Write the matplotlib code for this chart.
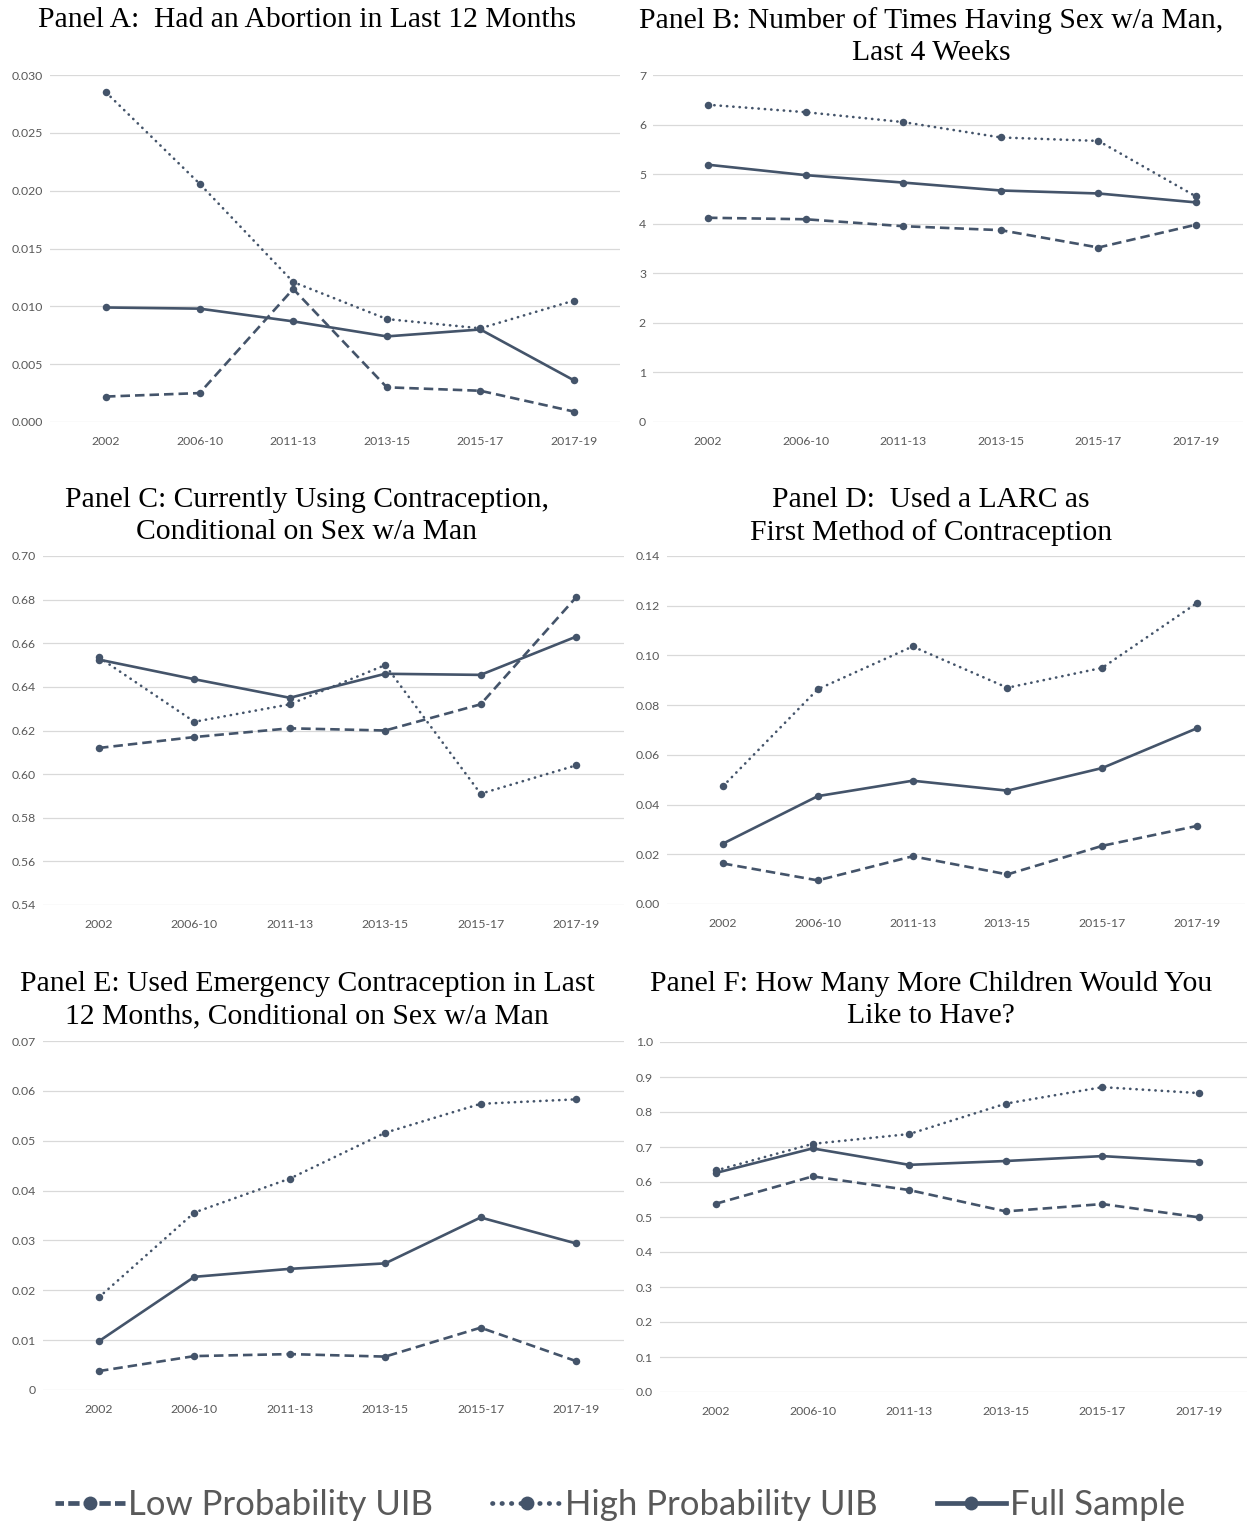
import matplotlib
matplotlib.use("Agg")
import matplotlib.pyplot as plt
from matplotlib.lines import Line2D
import numpy as np

W, H = 1249, 1524
categories = ["2002", "2006-10", "2011-13", "2013-15", "2015-17", "2017-19"]

# Panel A: Had an abortion in last 12 months
a_low = [0.0022, 0.0025, 0.0115, 0.0030, 0.0027, 0.0009]
a_high = [0.0285, 0.0206, 0.0121, 0.0089, 0.0081, 0.0105]
a_full = [0.0099, 0.0098, 0.0087, 0.0074, 0.0080, 0.0036]

# Panel B: Number of times having sex
b_low = [4.12, 4.09, 3.95, 3.87, 3.52, 3.98]
b_high = [6.40, 6.25, 6.05, 5.74, 5.67, 4.55]
b_full = [5.19, 4.98, 4.83, 4.67, 4.61, 4.43]

# Panel C: Currently using contraception
c_low = [0.612, 0.617, 0.621, 0.620, 0.632, 0.681]
c_high = [0.6535, 0.624, 0.632, 0.650, 0.591, 0.604]
c_full = [0.6525, 0.6435, 0.635, 0.646, 0.6455, 0.663]

# Panel D: LARC as first method
d_low = [0.0163, 0.0095, 0.0192, 0.0119, 0.0234, 0.0314]
d_high = [0.0474, 0.0864, 0.1036, 0.0870, 0.0950, 0.1211]
d_full = [0.0243, 0.0434, 0.0496, 0.0456, 0.0547, 0.0707]

# Panel E: Emergency contraception
e_low = [0.0038, 0.0068, 0.0072, 0.0067, 0.0125, 0.0058]
e_high = [0.0186, 0.0356, 0.0424, 0.0516, 0.0574, 0.0583]
e_full = [0.0098, 0.0227, 0.0243, 0.0254, 0.0346, 0.0294]

# Panel F: More children
f_low = [0.538, 0.616, 0.577, 0.516, 0.537, 0.499]
f_high = [0.633, 0.709, 0.737, 0.824, 0.871, 0.854]
f_full = [0.626, 0.696, 0.649, 0.660, 0.674, 0.658]

titles = [
    "Panel A:  Had an Abortion in Last 12 Months",
    "Panel B: Number of Times Having Sex w/a Man,\nLast 4 Weeks",
    "Panel C: Currently Using Contraception,\nConditional on Sex w/a Man",
    "Panel D:  Used a LARC as\nFirst Method of Contraception",
    "Panel E: Used Emergency Contraception in Last\n12 Months, Conditional on Sex w/a Man",
    "Panel F: How Many More Children Would You\nLike to Have?",
]
yticks_list = [
    [0.000, 0.005, 0.010, 0.015, 0.020, 0.025, 0.030],
    [0, 1, 2, 3, 4, 5, 6, 7],
    [0.54, 0.56, 0.58, 0.60, 0.62, 0.64, 0.66, 0.68, 0.70],
    [0.00, 0.02, 0.04, 0.06, 0.08, 0.10, 0.12, 0.14],
    [0, 0.01, 0.02, 0.03, 0.04, 0.05, 0.06, 0.07],
    [0.0, 0.1, 0.2, 0.3, 0.4, 0.5, 0.6, 0.7, 0.8, 0.9, 1.0],
]
yfmt = ["{:.3f}", "{:.0f}", "{:.2f}", "{:.2f}", None, "{:.1f}"]
e_labels = ["0", "0.01", "0.02", "0.03", "0.04", "0.05", "0.06", "0.07"]
data = [(a_low, a_high, a_full), (b_low, b_high, b_full), (c_low, c_high, c_full),
        (d_low, d_high, d_full), (e_low, e_high, e_full), (f_low, f_high, f_full)]

# layout in pixels: grid_left, grid_right, first_cat, last_cat, y_top_px, y_bot_px
layout = [
    (50, 620, 106, 574, 75, 422),
    (653, 1243, 708, 1196, 75, 422),
    (43, 624, 99, 576, 556, 905),
    (667, 1245, 723, 1197, 556, 904),
    (43, 624, 99, 576, 1041, 1390),
    (660, 1247, 716, 1199, 1042, 1392),
]
title_pos = [(307, 7), (931, 7), (307, 487), (931, 487), (307, 971), (931, 971)]

COL = "#44546A"
TICKC = "#595959"
GRIDC = "#D9D9D9"

fig = plt.figure(figsize=(W / 100, H / 100), dpi=100)
fig.patch.set_facecolor("white")

styles = {
    "low": dict(linestyle=(0, (3.6, 1.9)), dash_capstyle="butt"),
    "high": dict(linestyle=(0, (0.1, 2.3)), dash_capstyle="round"),
    "full": dict(linestyle="-"),
}

for i in range(6):
    gl, gr, c0, c5, yt, yb = layout[i]
    ax = fig.add_axes([gl / W, 1 - yb / H, (gr - gl) / W, (yb - yt) / H])
    step = (c5 - c0) / 5
    xmin = (gl - c0) / step
    xmax = (gr - c0) / step
    ax.set_xlim(xmin, xmax)
    yt_vals = yticks_list[i]
    ax.set_ylim(yt_vals[0], yt_vals[-1])
    x = np.arange(len(categories))
    low, high, full = data[i]
    for series, key in ((low, "low"), (high, "high"), (full, "full")):
        ax.plot(x, series, color=COL, lw=1.9, marker="o", markersize=5.4,
                markeredgewidth=0, clip_on=False, zorder=3, **styles[key])
    ax.set_xticks(x)
    ax.set_xticklabels(categories)
    ax.set_yticks(yt_vals)
    if yfmt[i] is None:
        ax.set_yticklabels(e_labels)
    else:
        ax.set_yticklabels([yfmt[i].format(v) for v in yt_vals])
    ax.tick_params(axis="both", length=0, labelsize=8.8, labelcolor=TICKC)
    ax.tick_params(axis="x", pad=10)
    ax.tick_params(axis="y", pad=5)
    for lab in ax.get_xticklabels() + ax.get_yticklabels():
        lab.set_fontfamily("Lato")
    ax.grid(axis="y", color=GRIDC, lw=0.9)
    ax.set_axisbelow(True)
    for s in ax.spines.values():
        s.set_visible(False)
    ax.patch.set_alpha(0)
    tx, ty = title_pos[i]
    fig.text(tx / W, 1 - ty / H, titles[i], ha="center", va="top",
             fontsize=21.3, family="Liberation Serif", color="black", linespacing=1.30)

handles = [
    Line2D([], [], color=COL, lw=3.4, marker="o", markersize=10, markeredgewidth=0,
           linestyle=(0.6, (2.4, 0.9))),
    Line2D([], [], color=COL, lw=3.4, marker="o", markersize=10, markeredgewidth=0,
           linestyle=(0, (0.1, 1.9)), dash_capstyle="round"),
    Line2D([], [], color=COL, lw=3.4, marker="o", markersize=10, markeredgewidth=0,
           linestyle="-"),
]
labels = ["Low Probability UIB", "High Probability UIB", "Full Sample"]
leg = fig.legend(handles, labels, loc="center", bbox_to_anchor=(620 / W, 1 - 1505 / H),
                 ncol=3, frameon=False, handlelength=2.0, handletextpad=0.1,
                 columnspacing=1.7, prop=dict(family="Lato", size=25))
for t in leg.get_texts():
    t.set_color(TICKC)

fig.savefig("out.png", dpi=100, facecolor="white")
